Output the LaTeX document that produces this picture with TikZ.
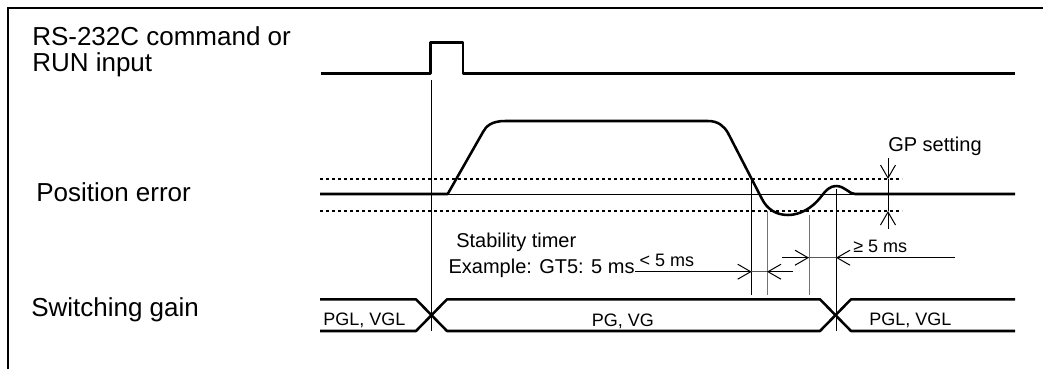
\documentclass[tikz,border=0pt]{standalone}
\usepackage{fontspec}
\setmainfont{Liberation Sans}
\usetikzlibrary{arrows.meta}
\tikzset{
  signal/.style={line width=1.9pt, line join=round},
  marker/.style={line width=0.75pt},
  greymarker/.style={line width=0.75pt, draw=black!55},
  level/.style={line width=2.2pt, dash pattern=on 2.2pt off 2.3pt},
  dimline/.style={line width=0.75pt, draw=black!65},
  dimtip/.style={-{Straight Barb[length=9.75pt,width=11.25pt]}, line width=0.75pt},
  biglabel/.style={font=\fontsize{19.5}{23}\selectfont, inner sep=0pt, anchor=base west},
  midlabel/.style={font=\fontsize{15}{18}\selectfont, inner sep=0pt, anchor=base west},
  smalllabel/.style={font=\fontsize{13.5}{16}\selectfont, inner sep=0pt, anchor=base west}
}

\begin{document}
\begin{tikzpicture}[x=0.75pt,y=-0.75pt]
    \useasboundingbox (0,0) rectangle (1043,369);
    % Frame
    \draw[line width=1.9pt] (8,369) -- (8,8) -- (1043,8);

    % Signal names
    \node[biglabel] (cmd1) at (32,45) {RS-232C command or};
    \node[biglabel] (cmd2) at (32,71) {RUN input};
    \node[biglabel] (poserr) at (36,201) {Position error};
    \node[biglabel] (swgain) at (31,316) {Switching gain};

    % Command pulse
    \draw[signal] (320.7,73.3) -- (430.7,73.3) -- (430.7,42.7) -- (463,42.7)
        -- (463,73.3) -- (1015,73.3);

    % GP band
    \draw[level] (320,179) -- (902,179);
    \draw[level] (320,211) -- (902,211);
    \draw[marker] (447,194) -- (855,194);

    % Position error curve
    \draw[signal] (320,194) -- (447.7,194) -- (483,132)
        .. controls (486,126) and (492,121) .. (505,121) -- (708,121)
        .. controls (718,121) and (724,126) .. (728,133) -- (762,199)
        .. controls (767,209) and (776,215) .. (788,215)
        .. controls (800,215) and (812,208) .. (820,198)
        .. controls (826,190) and (830,186) .. (836,186)
        .. controls (845,186) and (849,194) .. (855,194) -- (1015,194);

    % Switching gain
    \draw[signal] (320,299.3) -- (416,299.3) -- (447,331) -- (820,331)
        -- (851,299.3) -- (1015,299.3);
    \draw[signal] (320,331) -- (416,331) -- (447,299.3) -- (820,299.3)
        -- (851,331) -- (1015,331);
    \node[smalllabel] (gl1) at (323,325.5) {PGL, VGL};
    \node[smalllabel] (gh) at (591.7,326) {PG, VG};
    \node[smalllabel] (gl2) at (869,325.5) {PGL, VGL};

    % Time markers
    \draw[marker] (431.7,80) -- (431.7,331);
    \draw[marker] (751.7,179) -- (751.7,295);
    \draw[greymarker] (767,211) -- (767,295);
    \draw[greymarker] (809,215) -- (809,295);
    \draw[marker] (836,189) -- (836,331);

    % Stability timer
    \node[midlabel] (stab) at (456,247.3) {Stability timer};
    \node[midlabel] (gt5) at (448.3,273.3) {Example: GT5: 5 ms};
    \coordinate (lt0) at (635,271.7);
    \coordinate (lt1) at (751.7,271.7);
    \coordinate (lt2) at (767,271.7);
    \coordinate (lt3) at (793,271.7);
    \draw[dimline] (lt0) -- (lt3);
    \draw[dimtip] (lt0) -- (lt1);
    \draw[dimtip] (lt3) -- (lt2);
    \node[smalllabel] (lt5) at (639.3,266) {< 5 ms};

    \coordinate (ge0) at (782,257.7);
    \coordinate (ge1) at (809,257.7);
    \coordinate (ge2) at (836,257.7);
    \coordinate (ge3) at (955,257.7);
    \draw[dimline] (ge0) -- (ge3);
    \draw[dimtip] (ge0) -- (ge1);
    \draw[dimtip] (ge3) -- (ge2);
    \node[smalllabel] (ge5) at (853,252.7) {≥ 5 ms};

    % GP setting
    \node[midlabel] (gp) at (888,151) {GP setting};
    \coordinate (gp0) at (888,158);
    \coordinate (gp1) at (888,179);
    \coordinate (gp2) at (888,211);
    \coordinate (gp3) at (888,229);
    \draw[dimtip] (gp0) -- (gp1);
    \draw[dimtip] (gp3) -- (gp2);
    \draw[marker] (gp1) -- (gp2);
\end{tikzpicture}
\end{document}
